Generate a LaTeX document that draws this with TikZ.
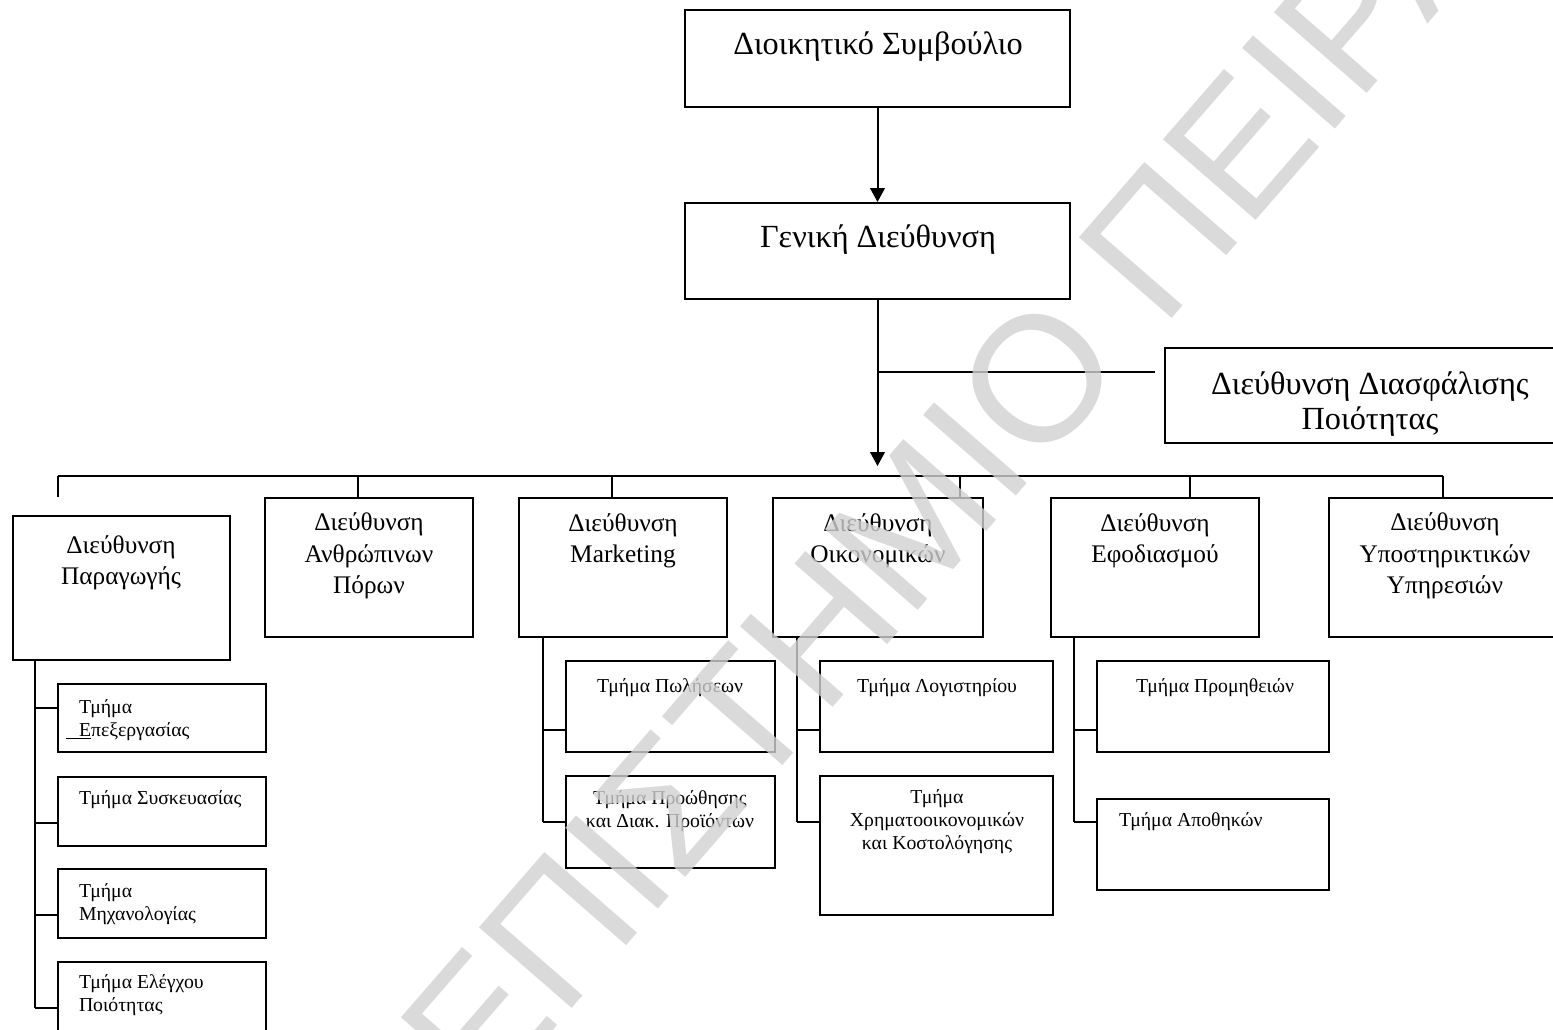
\documentclass[tikz,border=0pt]{standalone}
\usepackage{fontspec}
\setmainfont{Liberation Serif}
\newfontfamily\wmfont{Liberation Sans}
\usetikzlibrary{arrows.meta}
\tikzset{every picture/.style={line width=1.5pt}}
\tikzset{
  unit/.style 2 args={draw, inner sep=0pt, minimum width=#1*0.75pt, minimum height=#2*0.75pt},
  toptxt/.style={font=\fontsize{24.2}{26.25}\selectfont, align=center, inner sep=0pt},
  rowtxt/.style={font=\fontsize{19}{23.5}\selectfont, align=center, inner sep=0pt},
  subtxt/.style={font=\fontsize{14.8}{17.25}\selectfont, inner sep=0pt},
  feed/.style={-{Triangle[length=10.5pt,width=11pt]}},
  stamp/.style={font=\wmfont\fontsize{134}{134}\selectfont, text=black!18, opacity=0.8, inner sep=0pt},
}

\begin{document}
\begin{tikzpicture}[x=0.75pt,y=0.75pt,yscale=-1,xscale=1]
\useasboundingbox (0,0) rectangle (1553,1029);
\clip (0,0) rectangle (1553,1029);

%Shape: Rectangle
\node[unit={385}{97}] (board) at (877.5,58.5) {};
\node[unit={385}{96}] (gm) at (877.5,251) {};
\node[unit={410}{95}] (qa) at (1370,395.5) {};
%Shape: Rectangle (directorates)
\node[unit={217}{144}] (prod) at (121.5,588) {};
\node[unit={208}{139}] (hr) at (369,567.5) {};
\node[unit={208}{139}] (mkt) at (623,567.5) {};
\node[unit={210}{139}] (fin) at (878,567.5) {};
\node[unit={208}{139}] (supply) at (1155,567.5) {};
\node[unit={232}{139}] (support) at (1445,567.5) {};
%Shape: Rectangle (departments)
\node[unit={208}{68}] (proc) at (162,718) {};
\node[unit={208}{69}] (pack) at (162,811.5) {};
\node[unit={208}{69}] (mech) at (162,903.5) {};
\node[unit={208}{78}] (qc) at (162,1001) {};
\node[unit={209}{91}] (sales) at (670.5,706.5) {};
\node[unit={209}{92}] (promo) at (670.5,822) {};
\node[unit={233}{91}] (acc) at (936.5,706.5) {};
\node[unit={233}{139}] (cost) at (936.5,845.5) {};
\node[unit={232}{91}] (buy) at (1213,706.5) {};
\node[unit={232}{91}] (store) at (1213,844.5) {};

%Straight Lines
\coordinate (hub) at (877.5,466);
\coordinate (qalink) at (1155,372);
\coordinate (barL) at (58,476);
\coordinate (barR) at (1443,476);
\draw[feed] (board) -- (gm);
\draw[feed] (gm) -- (hub);
\draw (gm.south |- qalink) -- (qalink);
\draw (barL) -- (barR);
\foreach \x/\n in {58/hr,358/hr,612/mkt,960/fin,1190/supply,1443/support}
  \draw (\x,476) -- (\n.north -| \x,0);

%Straight Lines (production)
\coordinate (p1) at (35,708);
\coordinate (p2) at (35,823);
\coordinate (p3) at (35,915);
\coordinate (p4) at (35,1008);
\draw (prod.south -| p1) -- (p4);
\foreach \c/\n in {p1/proc,p2/pack,p3/mech,p4/qc}
  \draw (\c) -- (\c -| \n.west);
%Straight Lines (marketing)
\coordinate (m1) at (543,730);
\coordinate (m2) at (543,822);
\draw (mkt.south -| m1) -- (m2);
\draw (m1) -- (m1 -| sales.west);
\draw (m2) -- (m2 -| promo.west);
%Straight Lines (finance)
\coordinate (f1) at (797,730);
\coordinate (f2) at (797,822);
\draw (fin.south -| f1) -- (f2);
\draw (f1) -- (f1 -| acc.west);
\draw (f2) -- (f2 -| cost.west);
%Straight Lines (supply)
\coordinate (s1) at (1074,730);
\coordinate (s2) at (1074,822);
\draw (supply.south -| s1) -- (s2);
\draw (s1) -- (s1 -| buy.west);
\draw (s2) -- (s2 -| store.west);

% Text Node
\node[toptxt] (boardtxt) at (878,47) {Διοικητικό Συμβούλιο};
\node[toptxt] (gmtxt) at (878,240) {Γενική Διεύθυνση};
\node[toptxt] (qatxt) at (1370,404) {Διεύθυνση Διασφάλισης\\Ποιότητας};
% Text Node
\node[rowtxt] (prodtxt) at (121,563) {Διεύθυνση\\Παραγωγής};
\node[rowtxt] (hrtxt) at (369,556) {Διεύθυνση\\Ανθρώπινων\\Πόρων};
\node[rowtxt] (mkttxt) at (623,541) {Διεύθυνση\\Marketing};
\node[rowtxt] (fintxt) at (878,541) {Διεύθυνση\\Οικονομικών};
\node[rowtxt] (supplytxt) at (1155,541) {Διεύθυνση\\Εφοδιασμού};
\node[rowtxt] (supporttxt) at (1445,556) {Διεύθυνση\\Υποστηρικτικών\\Υπηρεσιών};
% Text Node
\node[subtxt, align=left, anchor=west] (proctxt) at (78,720) {Τμήμα\\\hspace*{-9.75pt}\underline{\hspace{9.75pt}Ε}πεξεργασίας};
\node[subtxt, anchor=west] (packtxt) at (78,800) {Τμήμα Συσκευασίας};
\node[subtxt, align=left, anchor=west] (mechtxt) at (78,904) {Τμήμα\\Μηχανολογίας};
\node[subtxt, align=left, anchor=west] (qctxt) at (78,995) {Τμήμα Ελέγχου\\Ποιότητας};
\node[subtxt] (salestxt) at (670,688) {Τμήμα Πωλήσεων};
\node[subtxt, align=center] (promotxt) at (670,811) {Τμήμα Προώθησης\\και Διακ. Προϊόντων};
\node[subtxt] (acctxt) at (937,688) {Τμήμα Λογιστηρίου};
\node[subtxt, align=center] (costtxt) at (937,822) {Τμήμα\\Χρηματοοικονομικών\\και Κοστολόγησης};
\node[subtxt] (buytxt) at (1215,688) {Τμήμα Προμηθειών};
\node[subtxt, anchor=west] (storetxt) at (1118,822) {Τμήμα Αποθηκών};

% Watermark
\node[stamp, rotate=49] (stamp) at (880,560) {ΠΑΝΕΠΙΣΤΗΜΙΟ ΠΕΙΡΑΙΑ};

\end{tikzpicture}
\end{document}
